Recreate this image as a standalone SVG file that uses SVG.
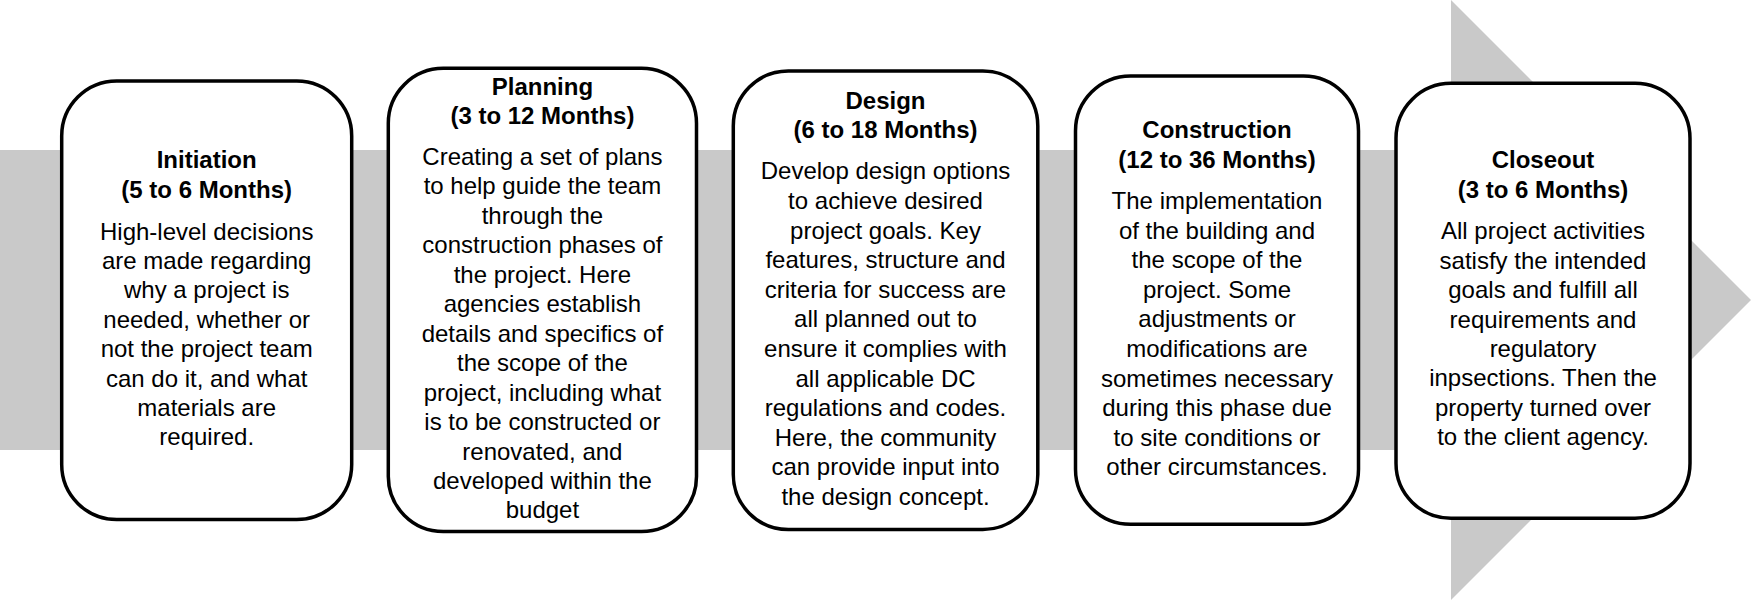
<svg xmlns="http://www.w3.org/2000/svg" width="1751" height="600" viewBox="0 0 1751 600">
<style>
.box{fill:#ffffff;stroke:#000000;stroke-width:3.5}
.t{font-family:"Liberation Sans",Arial,sans-serif;font-size:24px;fill:#000000;text-anchor:middle}
.b{font-weight:bold}
</style>
<rect width="1751" height="600" fill="#ffffff"/>
<g id="connectors">
<path d="M0,150 L1451,150 L1451,0 L1751,300 L1451,600 L1451,450 L0,450 Z" fill="#c9c9c9"/>
</g>
<g id="initiation">
<rect class="box" x="61.7" y="81" width="290" height="438.5" rx="55" ry="55"/>
<text class="t b" x="206.7" y="168.3">Initiation</text>
<text class="t b" x="206.7" y="197.7">(5 to 6 Months)</text>
<text class="t" x="206.7" y="239.5">High-level decisions</text>
<text class="t" x="206.7" y="268.9">are made regarding</text>
<text class="t" x="206.7" y="298.3">why a project is</text>
<text class="t" x="206.7" y="327.7">needed, whether or</text>
<text class="t" x="206.7" y="357.1">not the project team</text>
<text class="t" x="206.7" y="386.5">can do it, and what</text>
<text class="t" x="206.7" y="415.9">materials are</text>
<text class="t" x="206.7" y="445.3">required.</text>
</g>
<g id="planning">
<rect class="box" x="388.3" y="68.3" width="308.2" height="463.2" rx="55" ry="55"/>
<text class="t b" x="542.4" y="95">Planning</text>
<text class="t b" x="542.4" y="124.3">(3 to 12 Months)</text>
<text class="t" x="542.4" y="165">Creating a set of plans</text>
<text class="t" x="542.4" y="194.4">to help guide the team</text>
<text class="t" x="542.4" y="223.9">through the</text>
<text class="t" x="542.4" y="253.3">construction phases of</text>
<text class="t" x="542.4" y="282.8">the project. Here</text>
<text class="t" x="542.4" y="312.2">agencies establish</text>
<text class="t" x="542.4" y="341.7">details and specifics of</text>
<text class="t" x="542.4" y="371.1">the scope of the</text>
<text class="t" x="542.4" y="400.6">project, including what</text>
<text class="t" x="542.4" y="430">is to be constructed or</text>
<text class="t" x="542.4" y="459.5">renovated, and</text>
<text class="t" x="542.4" y="488.9">developed within the</text>
<text class="t" x="542.4" y="518.4">budget</text>
</g>
<g id="design">
<rect class="box" x="733.3" y="71" width="304.5" height="458.5" rx="55" ry="55"/>
<text class="t b" x="885.5" y="108.5">Design</text>
<text class="t b" x="885.5" y="137.8">(6 to 18 Months)</text>
<text class="t" x="885.5" y="179.3">Develop design options</text>
<text class="t" x="885.5" y="208.9">to achieve desired</text>
<text class="t" x="885.5" y="238.5">project goals. Key</text>
<text class="t" x="885.5" y="268.1">features, structure and</text>
<text class="t" x="885.5" y="297.7">criteria for success are</text>
<text class="t" x="885.5" y="327.3">all planned out to</text>
<text class="t" x="885.5" y="356.9">ensure it complies with</text>
<text class="t" x="885.5" y="386.5">all applicable DC</text>
<text class="t" x="885.5" y="416.1">regulations and codes.</text>
<text class="t" x="885.5" y="445.7">Here, the community</text>
<text class="t" x="885.5" y="475.3">can provide input into</text>
<text class="t" x="885.5" y="504.9">the design concept.</text>
</g>
<g id="construction">
<rect class="box" x="1075.5" y="76" width="283" height="448.3" rx="55" ry="55"/>
<text class="t b" x="1217" y="138.3">Construction</text>
<text class="t b" x="1217" y="167.7">(12 to 36 Months)</text>
<text class="t" x="1217" y="209">The implementation</text>
<text class="t" x="1217" y="238.6">of the building and</text>
<text class="t" x="1217" y="268.2">the scope of the</text>
<text class="t" x="1217" y="297.8">project. Some</text>
<text class="t" x="1217" y="327.4">adjustments or</text>
<text class="t" x="1217" y="357">modifications are</text>
<text class="t" x="1217" y="386.6">sometimes necessary</text>
<text class="t" x="1217" y="416.2">during this phase due</text>
<text class="t" x="1217" y="445.8">to site conditions or</text>
<text class="t" x="1217" y="475.4">other circumstances.</text>
</g>
<g id="closeout">
<rect class="box" x="1396" y="83.3" width="294" height="435" rx="55" ry="55"/>
<text class="t b" x="1543" y="167.7">Closeout</text>
<text class="t b" x="1543" y="197.5">(3 to 6 Months)</text>
<text class="t" x="1543" y="239.3">All project activities</text>
<text class="t" x="1543" y="268.7">satisfy the intended</text>
<text class="t" x="1543" y="298.1">goals and fulfill all</text>
<text class="t" x="1543" y="327.5">requirements and</text>
<text class="t" x="1543" y="356.9">regulatory</text>
<text class="t" x="1543" y="386.3">inpsections. Then the</text>
<text class="t" x="1543" y="415.7">property turned over</text>
<text class="t" x="1543" y="445.1">to the client agency.</text>
</g>
</svg>
